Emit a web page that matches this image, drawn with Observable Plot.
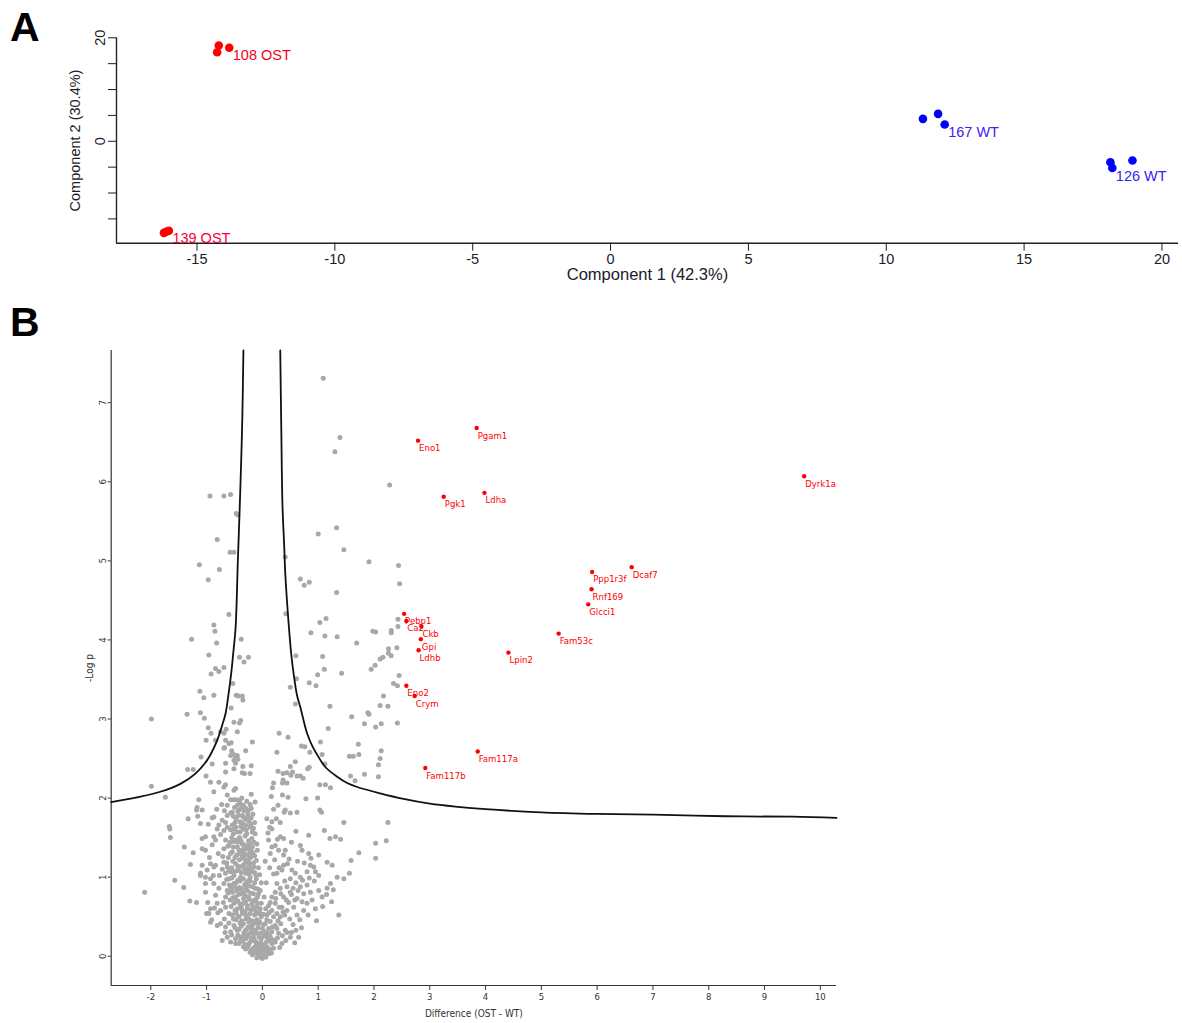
<!DOCTYPE html>
<html><head><meta charset="utf-8">
<script src="https://cdn.jsdelivr.net/npm/d3@7"></script>
<script src="https://cdn.jsdelivr.net/npm/@observablehq/plot@0.6"></script>
<style>
body{margin:0;background:#fff;}
#wrap{position:relative;width:1182px;height:1023px;overflow:hidden;background:#fff;}
.panel{position:absolute;left:0;}
.letter{position:absolute;font:bold 41px/41px "Liberation Sans",Arial,sans-serif;color:#000;}
</style></head><body>
<div id="wrap">
<div id="pa" class="panel" style="top:0"></div>
<div id="pb" class="panel" style="top:300px"></div>
<div class="letter" style="left:10px;top:7px">A</div>
<div class="letter" style="left:10px;top:302px">B</div>
</div>
<script>
// ---------- Panel A: PCA ----------
const pcaX = [-14.21, -14.27, -13.83, -16.20, -16.11, -16.02, 11.33, 11.88, 12.12, 18.13, 18.20, 18.93];
const pcaY = [18.5, 17.2, 18.07, -17.7, -17.5, -17.3, 4.33, 5.30, 3.23, -4.06, -5.15, -3.73];
const pcaGroup = ["108 OST","108 OST","108 OST","139 OST","139 OST","139 OST","167 WT","167 WT","167 WT","126 WT","126 WT","126 WT"];
const groupNames = ["108 OST", "139 OST", "167 WT", "126 WT"];
const groupLabelPoint = [2, 5, 8, 10];
const groupColor = {"108 OST": "#ff0000", "139 OST": "#ff0000", "167 WT": "#0000ff", "126 WT": "#0000ff"};
const groupTextColor = {"108 OST": "#f5001c", "139 OST": "#f5003a", "167 WT": "#3a22f0", "126 WT": "#3a22f0"};
const pcaXTicks = [-15, -10, -5, 0, 5, 10, 15, 20];
const pcaYTicks = [-15, -10, -5, 0, 5, 10, 15, 20];
const pcaYLabelled = [0, 20];
const pcaXDomain = [-17.92, 20.6];
const pcaYDomain = [-19.7, 20];

// ---------- Panel B: volcano ----------
const hitNames = ["Eno1","Pgam1","Pgk1","Ldha","Dyrk1a","Ppp1r3f","Dcaf7","Rnf169","Glcci1","Fam53c","Lpin2","Pebp1","Ca2","Ckb","Gpi","Ldhb","Eno2","Crym","Fam117a","Fam117b"];
const hitDiff = [2.79, 3.84, 3.25, 3.98, 9.71, 5.91, 6.62, 5.90, 5.84, 5.31, 4.41, 2.54, 2.58, 2.85, 2.84, 2.80, 2.58, 2.73, 3.86, 2.92];
const hitLogP = [6.52, 6.68, 5.81, 5.86, 6.07, 4.86, 4.92, 4.64, 4.45, 4.08, 3.84, 4.33, 4.24, 4.17, 4.01, 3.87, 3.42, 3.29, 2.59, 2.38];

const grayPoints = [
[-0.94,5.82],[-0.69,5.82],[-0.57,5.84],[-0.47,5.60],[-0.44,5.58],[-0.81,5.27],[-0.58,5.11],[-0.51,5.11],[-1.13,4.95],[-0.77,4.89],[-0.97,4.76],[-0.60,4.32],[-0.87,4.19],[-0.85,4.11],[-1.27,4.01],[-0.38,4.01],[-0.82,3.96],[-0.96,3.81],[-0.41,3.78],[-0.33,3.72],[-0.25,3.78],[-0.84,3.64],[-0.78,3.60],[-0.69,3.65],[-0.92,3.57],[-0.53,3.45],[-1.12,3.35],[-1.05,3.27],[-0.87,3.30],[-0.47,3.30],[-0.43,3.29],[-0.36,3.29],[-0.35,3.24],[-0.56,3.14],[-1.35,3.06],[-1.11,3.08],[-1.04,3.01],[-0.51,2.96],[-0.41,2.95],[-0.39,2.98],[-0.97,2.89],[-0.92,2.82],[-0.69,2.82],[-0.65,2.87],[-0.45,2.84],[-1.99,3.00],
[1.09,7.31],[1.39,6.56],[1.30,6.38],[2.28,5.96],[1.33,5.42],[1.00,5.34],[1.46,5.14],[1.91,4.99],[0.41,5.05],[0.68,4.77],[0.75,4.69],[0.84,4.73],[1.33,4.60],[0.42,4.33],[1.14,4.27],[1.03,4.22],[0.87,4.09],[1.12,4.05],[1.34,4.04],[1.69,3.96],[1.98,4.11],[2.03,4.10],[0.60,3.80],[1.08,3.79],[2.11,3.76],[2.26,3.89],[2.26,3.83],
[2.44,4.94],[2.46,4.71],[2.31,4.12],[2.31,4.09],[2.43,4.26],[2.43,4.17],[2.31,3.80],[2.41,3.90],[2.16,3.78],
[2.02,3.68],[1.95,3.63],[1.11,3.63],[0.61,3.51],[0.99,3.56],[1.42,3.58],[0.84,3.46],[0.96,3.42],[0.50,3.40],[2.45,3.55],[2.35,3.45],[2.42,3.42],[2.17,3.29],[0.59,3.19],[1.21,3.16],[2.11,3.17],[2.25,3.16],[1.89,3.08],[1.91,3.06],[1.60,3.03],[2.42,2.95],[1.83,2.94],[2.13,2.94],[2.03,2.90],[1.18,2.88],[0.30,2.82],[0.46,2.77],[1.04,2.71],[0.70,2.66],[0.76,2.65],[1.72,2.68],[2.13,2.60],[0.26,2.58],[0.85,2.58],[1.07,2.55],[1.73,2.55],[1.56,2.53],[1.63,2.53],[2.11,2.50],[0.59,2.46],[2.08,2.42],[0.84,2.39],[0.81,2.37],[1.12,2.43],[0.44,2.32],[0.54,2.33],[0.62,2.28],[0.68,2.28],[0.73,2.25],[0.51,2.29],[0.36,2.19],[0.44,2.19],[1.66,2.22],[2.08,2.27],[1.13,2.17],[1.22,2.13],[0.18,2.13],[0.36,2.04],[0.78,1.99],[0.99,2.00],
[0.50,2.40],[0.28,2.34],[0.37,2.31],[1.03,2.17],[0.20,2.19],[1.58,2.28],[1.83,2.30],[0.16,2.02],[0.46,2.01],
[1.06,1.82],[0.28,1.91],[0.50,1.81],[0.62,1.82],[0.17,1.70],[0.32,1.69],[0.39,1.82],[1.11,1.59],[1.21,1.49],[1.31,1.51],[1.46,1.69],[1.40,1.48],[2.25,1.69],[2.03,1.43],[2.03,1.24],[2.22,1.46],[1.59,1.21],[1.73,1.31],[1.56,1.05],[1.46,0.98],[1.37,0.52],
[-0.68,2.64],[-0.56,2.70],[-0.18,2.71],[-0.51,2.55],[-0.45,2.54],[-0.57,2.54],[-0.30,2.60],
[-0.90,2.43],[-0.66,2.44],[-0.51,2.48],[-0.48,2.44],[-0.20,2.41],[-0.35,2.40],[-0.66,2.33],[-0.51,2.37],[-0.36,2.32],[-0.32,2.31],[-0.22,2.31],[0.37,2.23],
[-0.78,2.20],[-0.66,2.17],[-0.69,2.14],[-0.48,2.12],[-0.51,2.10],
[-0.20,2.05],[-0.63,2.04],[-0.57,1.98],[-0.51,1.98],[-0.41,1.97],[-0.34,1.91],[-0.30,1.87],[-0.45,1.91],[-0.42,1.85],[-0.54,1.82],[-0.63,1.78],[-0.57,1.81],[-0.36,1.78],[-0.34,1.76],[-0.27,1.75],[-0.72,1.72],[0.41,1.85],[-1.08,1.85],[-0.87,1.76],[1.03,1.85],
[-0.78,1.66],[-0.81,1.61],[-0.66,1.69],[-0.63,1.63],[-0.69,1.59],[-0.54,1.66],[-0.48,1.63],[-0.45,1.57],[-0.36,1.68],[-0.34,1.61],[-0.22,1.63],[-0.18,1.57],[0.17,1.61],[0.32,1.51],[0.38,1.49],[-0.87,1.51],[-1.08,1.49],[-1.02,1.51],[0.83,1.53],
[-0.84,1.47],[-0.66,1.47],[-0.60,1.40],[-0.69,1.36],[-0.51,1.45],[-0.45,1.38],[-0.54,1.32],[-0.36,1.42],[-0.30,1.36],[-0.39,1.30],[-0.27,1.28],[-0.18,1.38],[-0.22,1.30],[0.11,1.47],[0.17,1.38],[0.14,1.30],[0.23,1.40],[0.29,1.34],[0.41,1.34],[0.38,1.28],[0.68,1.40],[0.71,1.34],[0.83,1.30],[1.01,1.28],[-1.02,1.34],
[-0.93,1.17],[-0.87,1.13],[-0.99,1.09],[-0.84,1.15],[-0.69,1.19],[-0.63,1.13],[-0.57,1.07],[-0.66,1.05],[-0.48,1.17],[-0.42,1.11],[-0.51,1.02],[-0.39,1.00],[-0.30,1.19],[-0.25,1.13],[-0.30,1.05],[-0.22,1.00],[-0.18,1.07],[0.38,1.15],[0.35,1.09],[0.26,1.05],[0.53,1.09],[0.59,1.05],[0.86,1.15],[0.92,1.13],[0.95,1.07],[0.80,1.07],[1.16,1.19],[1.25,1.15],[1.34,1.00],[1.01,1.02],[-1.11,1.02],[-1.02,1.00],
[-1.02,0.92],[-0.87,0.92],[-0.78,0.86],[-0.84,0.77],[-0.69,0.92],[-0.63,0.83],[-0.66,0.75],[-0.57,0.88],[-0.51,0.92],[-0.45,0.83],[-0.48,0.75],[-0.39,0.79],[-0.30,0.92],[-0.27,0.83],[-0.25,0.75],[-0.34,0.73],[-0.18,0.88],[-0.16,0.79],[-0.09,0.75],[0.26,0.92],[0.32,0.86],[0.23,0.81],[0.17,0.75],[0.38,0.75],[0.44,0.88],[0.50,0.81],[0.68,0.88],[0.74,0.79],[0.62,0.73],[0.80,0.90],[0.86,0.81],[1.01,0.83],[1.07,0.75],[1.16,0.86],
[-0.81,0.67],[-0.75,0.58],[-0.66,0.62],[-0.60,0.54],[-0.51,0.67],[-0.45,0.60],[-0.54,0.52],[-0.42,0.50],[-0.34,0.67],[-0.27,0.60],[-0.22,0.54],[-0.36,0.54],[-0.16,0.62],[-0.25,0.48],[-0.09,0.67],[-0.07,0.54],[0.11,0.64],[0.17,0.58],[0.08,0.52],[0.23,0.67],[0.26,0.54],[0.35,0.62],[0.44,0.58],[0.32,0.50],[0.56,0.62],[0.62,0.52],[0.74,0.58],[0.80,0.67],[-0.96,0.54],[-0.93,0.60],
[-0.75,0.41],[-0.66,0.37],[-0.57,0.31],[-0.63,0.24],[-0.51,0.39],[-0.45,0.33],[-0.39,0.24],[-0.48,0.22],[-0.34,0.41],[-0.27,0.35],[-0.22,0.29],[-0.30,0.22],[-0.18,0.39],[-0.16,0.24],[-0.13,0.33],[-0.07,0.41],[-0.04,0.29],[0.05,0.41],[0.11,0.35],[0.08,0.24],[0.17,0.31],[0.23,0.39],[0.29,0.29],[0.41,0.33],[0.50,0.24],[0.65,0.24],[-0.72,0.20],[-0.93,0.43],
[-0.42,0.16],[-0.34,0.12],[-0.25,0.14],[-0.22,0.05],[-0.16,0.10],[-0.09,0.03],[-0.07,0.16],[-0.01,0.08],[0.02,0.01],[0.08,0.12],[0.11,0.03],[-0.04,-0.01],[0.17,0.16],[0.23,0.18],[-0.57,0.18],
[-1.10,2.52],[-1.34,2.36],[-1.24,2.36],[-1.99,2.15],[-1.74,2.01],[-1.14,1.98],[-1.18,1.85],[-1.16,1.77],[-1.33,1.74],[-1.11,1.68],[-0.90,1.75],[-1.67,1.64],[-1.66,1.61],[-1.65,1.50],[-1.40,1.38],[-1.24,1.31],[-1.08,1.36],[-1.29,1.16],[-1.11,1.05],[-1.57,0.96],[-1.41,0.87],[-2.11,0.81],[-1.30,0.70],[-1.18,0.68],[-0.98,0.68],[-1.00,0.54],[-0.91,0.46],[-0.80,0.55],[-0.81,0.39],[-0.48,0.16],[-1.02,0.81],[-0.93,0.98],[-1.08,1.15],
[-1.17,1.88],[-1.01,2.28],[-0.93,2.20],[-0.87,2.08],[-1.01,2.73],[-0.84,2.73],[-0.75,2.84],[-0.66,2.73],[-0.60,2.69],[-0.55,2.60],[-0.48,2.51],[-0.44,2.49],[-0.69,2.63],[-0.63,1.91],[0.13,1.63],
[-0.40,1.93],[-0.33,1.84],[-0.26,1.80],[-0.47,1.74],[-0.40,1.70],[-0.30,1.66],[-0.24,1.71],[-0.52,1.55],[-0.41,1.50],[-0.31,1.52],[-0.25,1.46],[-0.19,1.49],[-0.58,1.44],[-0.44,1.44],[-0.35,1.35],[-0.26,1.40],[-0.20,1.33],[-0.14,1.27],[-0.61,1.25],[-0.49,1.25],[-0.41,1.22],[-0.33,1.24],[-0.25,1.22],[-0.16,1.18],[-0.55,1.12],[-0.46,1.08],[-0.36,1.14],[-0.27,1.08],[-0.20,1.11],[-0.12,1.03],[-0.60,0.98],[-0.44,0.96],[-0.34,0.98],[-0.26,0.95],[-0.14,0.93],[-0.08,0.85],[-0.56,0.84],[-0.41,0.87],[-0.35,0.81],[-0.21,0.80],[-0.12,0.72],[-0.53,0.74],[-0.44,0.70],[-0.30,0.69],[-0.19,0.66],[-0.04,0.60],[-0.49,0.58],[-0.38,0.62],[-0.31,0.55],[-0.12,0.57],[-0.02,0.50],[-0.47,0.46],[-0.40,0.42],[-0.29,0.47],[-0.18,0.45],[-0.10,0.46],[0.02,0.40],[0.14,0.44],[-0.42,0.34],[-0.33,0.30],[-0.25,0.37],[-0.08,0.36],[0.04,0.31],[0.18,0.37],[0.33,0.41],[-0.36,0.19],[-0.28,0.27],[-0.20,0.20],[-0.12,0.18],[-0.02,0.22],[0.12,0.20],[0.27,0.23],[-0.30,0.09],[-0.13,0.12],[-0.05,0.11],[0.04,0.06],[0.14,0.09],[-0.18,0.02],[0.06,-0.01],[-0.08,0.07],[0.00,0.15],[0.20,0.10],[0.35,0.16],[0.44,0.30],[0.55,0.40],[0.49,0.47],[0.67,0.46],[0.60,0.33],[0.40,0.52],[0.71,0.69],[0.89,0.71],[0.95,0.60],[1.15,0.78],[1.22,0.92],[0.58,0.71],[0.47,0.68],[0.93,0.95],[0.68,1.00],[0.75,1.18],[0.48,1.23],[0.22,1.22],[0.13,1.12],[0.27,1.48],[0.10,1.56],[0.25,1.74],[-0.13,1.95],[-0.20,1.87],[-0.16,1.62],[-0.10,1.42],
[-0.46,1.98],[-0.37,2.00],[-0.28,1.96],[-0.22,1.92],[-0.50,1.88],[-0.44,1.83],[-0.37,1.88],[-0.25,1.85],[-0.17,1.80],[-0.52,1.77],[-0.43,1.78],[-0.31,1.73],[-0.20,1.75],[-0.49,1.69],[-0.39,1.64],[-0.29,1.60],[-0.21,1.67],[-0.14,1.69],[-0.57,1.60],[-0.50,1.61],[-0.40,1.57],[-0.28,1.55],[-0.13,1.55],
[-0.55,1.50],[-0.47,1.47],[-0.38,1.46],[-0.33,1.41],[-0.23,1.43],[-0.15,1.44],[-0.62,1.39],[-0.52,1.38],[-0.42,1.34],[-0.32,1.30],[-0.24,1.35],[-0.17,1.31],[-0.09,1.34],[-0.57,1.30],[-0.46,1.28],[-0.36,1.26],[-0.29,1.21],[-0.21,1.25],[-0.11,1.21],[-0.64,1.18],[-0.53,1.20],[-0.44,1.14],[-0.33,1.16],[-0.23,1.17],[-0.15,1.13],[-0.07,1.12],[-0.60,1.09],[-0.51,1.07],[-0.38,1.06],[-0.32,1.10],[-0.24,1.04],[-0.14,1.06],[-0.05,1.03],
[-0.64,0.97],[-0.55,0.99],[-0.47,0.93],[-0.40,0.95],[-0.32,0.90],[-0.22,0.95],[-0.11,0.98],[-0.02,0.93],[-0.59,0.90],[-0.49,0.87],[-0.38,0.85],[-0.30,0.86],[-0.24,0.89],[-0.13,0.86],[-0.04,0.83],[-0.61,0.80],[-0.53,0.81],[-0.43,0.78],[-0.31,0.77],[-0.23,0.72],[-0.16,0.70],[-0.07,0.79],[0.03,0.75],[-0.58,0.71],[-0.49,0.69],[-0.40,0.66],[-0.27,0.64],[-0.20,0.59],[-0.10,0.63],[-0.02,0.67],[0.06,0.60],[-0.56,0.63],[-0.47,0.55],[-0.36,0.58],[-0.29,0.51],[-0.14,0.52],[-0.05,0.55],[0.02,0.53],
[-0.52,0.47],[-0.44,0.50],[-0.37,0.45],[-0.24,0.43],[-0.14,0.42],[-0.05,0.44],[0.08,0.46],[-0.49,0.36],[-0.38,0.38],[-0.30,0.33],[-0.19,0.34],[-0.11,0.29],[0.00,0.35],[0.09,0.29],[-0.44,0.27],[-0.35,0.25],[-0.25,0.25],[-0.16,0.29],[-0.06,0.24],[0.03,0.26],[0.14,0.25],[-0.39,0.20],[-0.31,0.15],[-0.23,0.17],[-0.14,0.20],[-0.03,0.17],[0.07,0.18],[0.19,0.21],[-0.27,0.11],[-0.20,0.08],[-0.11,0.13],[-0.03,0.05],[0.09,0.08],[0.16,0.04],[-0.14,0.05],[-0.06,0.02],[0.01,0.10],[0.04,0.13],[-0.10,-0.02],[0.00,-0.03],
[0.12,0.55],[0.20,0.50],[0.28,0.45],[0.37,0.56],[0.30,0.62],[0.14,0.68],[0.24,0.73],[0.33,0.79],[0.43,0.71],[0.52,0.78],[0.55,0.86],[0.64,0.83],[0.40,0.95],[0.50,0.98],[0.60,0.93],[0.72,0.96],[0.84,0.99],[0.30,1.12],[0.45,1.17],[0.63,1.20],[0.87,1.24],[0.20,1.04],[0.07,0.93],[0.05,1.20],[0.52,1.44],[0.60,1.58],[0.20,1.86],[0.08,1.74],[0.26,0.35],[0.36,0.26],[0.52,0.30],[0.31,0.11],[0.42,0.20],[0.58,0.17],[0.70,0.36],[0.82,0.52],[0.97,0.45],[1.08,0.63],[1.24,0.69],[1.27,0.84],
[-0.73,1.92],[-0.82,1.86],[-0.68,1.84],[-0.97,1.67],[-0.75,1.54],[-0.90,1.41],[-0.79,1.30],[-0.71,1.26],[-0.95,1.25],[-0.77,1.02],[-0.72,1.10],[-0.88,1.02],[-0.70,0.68],[-0.86,0.61],[-0.68,0.47],[-0.60,0.42],[-0.55,0.27],[-0.67,0.30]
];

const curveLeft = [[-0.34,7.66],[-0.36,6.8],[-0.38,6.27],[-0.41,5.6],[-0.44,5.0],[-0.48,4.16],[-0.52,3.85],[-0.56,3.57],[-0.61,3.3],[-0.66,3.07],[-0.73,2.9],[-0.81,2.73],[-0.99,2.48],[-1.20,2.31],[-1.47,2.18],[-1.83,2.08],[-2.25,2.01],[-2.71,1.95]];
const curveRight = [[0.32,7.66],[0.34,6.6],[0.36,5.7],[0.39,5.2],[0.41,4.84],[0.47,4.21],[0.52,3.8],[0.56,3.57],[0.62,3.3],[0.68,3.15],[0.80,2.82],[0.90,2.65],[1.04,2.48],[1.13,2.39],[1.34,2.27],[1.52,2.19],[1.70,2.14],[2.11,2.06],[2.53,1.99],[3.0,1.93],[3.5,1.89],[4.0,1.86],[5.0,1.82],[6.0,1.80],[7.0,1.79],[8.3,1.77],[9.5,1.765],[10.29,1.75]];

const volXTicks = [-2,-1,0,1,2,3,4,5,6,7,8,9,10];
const volYTicks = [0,1,2,3,4,5,6,7];
const volXDomain = [-2.71, 10.29];
const volYDomain = [-0.37, 7.66];

const sans = '"Liberation Sans", Arial, Helvetica, sans-serif';
const narrow = '"Liberation Sans Narrow", "Arial Narrow", "DejaVu Sans Condensed", sans-serif';
const hyphen = d => String(d);

// ---- build panel A ----
const pca = pcaX.map((x, i) => ({x, y: pcaY[i], group: pcaGroup[i]}));
const pcaLabels = groupNames.map((g, i) => ({...pca[groupLabelPoint[i]], name: g}));

const plotA = Plot.plot({
  width: 1182, height: 290,
  marginLeft: 116, marginRight: 4, marginTop: 37.3, marginBottom: 47.3,
  style: {fontFamily: sans, background: "transparent", overflow: "visible"},
  x: {domain: pcaXDomain, axis: null},
  y: {domain: pcaYDomain, axis: null},
  marks: [
    Plot.ruleX([pcaXDomain[0]], {stroke: "#222", strokeWidth: 1.4}),
    Plot.ruleY([pcaYDomain[0]], {stroke: "#222", strokeWidth: 1.4}),
    Plot.axisX({ticks: pcaXTicks, tickSize: 8, tickPadding: 2.5, fontSize: 14.5, color: "#1a1a2a", tickFormat: hyphen, label: null}),
    Plot.axisY({ticks: pcaYTicks, tickSize: 8, tickPadding: 4, fontSize: 14.5, color: "#1a1a2a", tickRotate: -90,
      tickFormat: d => pcaYLabelled.includes(d) ? String(d) : "", label: null}),
    Plot.dot(pca, {x: "x", y: "y", r: 4.3, fill: d => groupColor[d.group], stroke: "none"}),
    Plot.text(pcaLabels, {x: "x", y: "y", text: "name", fill: d => groupTextColor[d.name], fontSize: 14.5, textAnchor: "start", dx: 3.5, dy: 8}),
    Plot.text(["Component 1 (42.3%)"], {frameAnchor: "bottom", text: d => d, dy: 32, fontSize: 16.5, textAnchor: "middle", lineAnchor: "middle", fill: "#1a1a2a"}),
    Plot.text(["Component 2 (30.4%)"], {frameAnchor: "left", text: d => d, dx: -41, rotate: -90, fontSize: 14.5, textAnchor: "middle", lineAnchor: "middle", fill: "#1a1a2a"})
  ]
});
document.getElementById("pa").appendChild(plotA);

// ---- build panel B ----
const gray = grayPoints.map(([x, y]) => ({x, y}));
const hits = hitNames.map((name, i) => ({name, x: hitDiff[i], y: hitLogP[i]}));
const curve = [
  ...curveLeft.map(([x, y]) => ({x, y, side: "left"})),
  ...curveRight.map(([x, y]) => ({x, y, side: "right"}))
];

const plotB = Plot.plot({
  width: 1182, height: 723,
  marginLeft: 110.7, marginRight: 346, marginTop: 50, marginBottom: 38,
  style: {fontFamily: narrow, background: "transparent", overflow: "visible"},
  x: {domain: volXDomain, axis: null},
  y: {domain: volYDomain, axis: null},
  marks: [
    Plot.ruleX([volXDomain[0]], {stroke: "#333", strokeWidth: 1.2}),
    Plot.ruleY([volYDomain[0]], {stroke: "#333", strokeWidth: 1.2}),
    Plot.axisX({ticks: volXTicks, tickSize: 5, tickPadding: 3, fontSize: 9.5, color: "#333", tickFormat: hyphen, label: null}),
    Plot.axisY({ticks: volYTicks, tickSize: 3, tickPadding: 2, fontSize: 9.5, color: "#333", tickRotate: -90, tickFormat: hyphen, label: null}),
    Plot.dot(gray, {x: "x", y: "y", r: 2.5, fill: "#a8a8a8", stroke: "none"}),
    Plot.line(curve, {x: "x", y: "y", z: "side", stroke: "#111", strokeWidth: 1.8, curve: "catmull-rom"}),
    Plot.dot(hits, {x: "x", y: "y", r: 2.2, fill: "#ff0000", stroke: "none"}),
    Plot.text(hits, {x: "x", y: "y", text: "name", fill: "#ff0000", fontSize: 9.5, textAnchor: "start", dx: 1, dy: 7.5}),
    Plot.text(["Difference (OST - WT)"], {frameAnchor: "bottom", text: d => d, dy: 28, fontSize: 10, textAnchor: "middle", lineAnchor: "middle", fill: "#333"}),
    Plot.text(["-Log p"], {frameAnchor: "left", text: d => d, dx: -21, rotate: -90, fontSize: 10, textAnchor: "middle", lineAnchor: "middle", fill: "#333"})
  ]
});
document.getElementById("pb").appendChild(plotB);
</script>
</body></html>
